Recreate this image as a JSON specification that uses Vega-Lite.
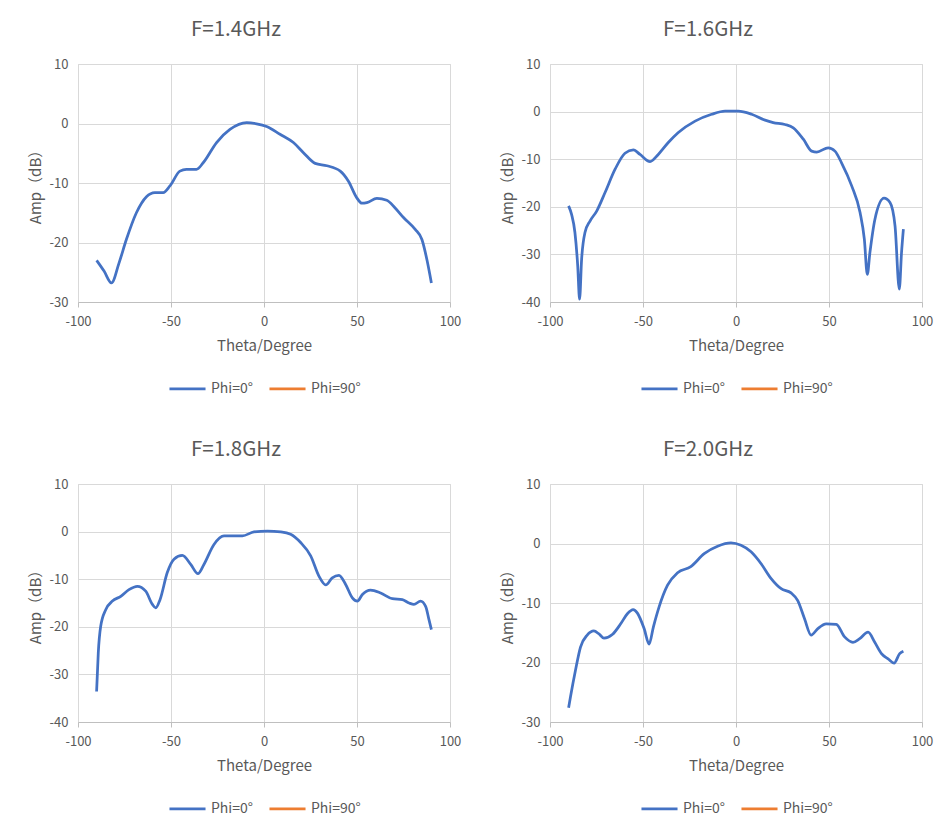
{
  "$schema": "https://vega.github.io/schema/vega-lite/v6.json",
  "background": "white",
  "padding": {"left": 27, "top": 19, "right": 5, "bottom": 5},
  "datasets": {
    "p14": [
      {"theta": -90, "amp": -23.0, "series": "Phi=0°"},
      {"theta": -86, "amp": -24.8, "series": "Phi=0°"},
      {"theta": -82, "amp": -26.8, "series": "Phi=0°"},
      {"theta": -78, "amp": -23.5, "series": "Phi=0°"},
      {"theta": -74, "amp": -19.5, "series": "Phi=0°"},
      {"theta": -68.6, "amp": -15.0, "series": "Phi=0°"},
      {"theta": -63.2, "amp": -12.3, "series": "Phi=0°"},
      {"theta": -58.7, "amp": -11.6, "series": "Phi=0°"},
      {"theta": -54.2, "amp": -11.6, "series": "Phi=0°"},
      {"theta": -50.6, "amp": -10.5, "series": "Phi=0°"},
      {"theta": -45.2, "amp": -8.0, "series": "Phi=0°"},
      {"theta": -41.7, "amp": -7.7, "series": "Phi=0°"},
      {"theta": -36.3, "amp": -7.7, "series": "Phi=0°"},
      {"theta": -32.7, "amp": -6.6, "series": "Phi=0°"},
      {"theta": -25.5, "amp": -3.2, "series": "Phi=0°"},
      {"theta": -18.3, "amp": -1.0, "series": "Phi=0°"},
      {"theta": -9.3, "amp": 0.15, "series": "Phi=0°"},
      {"theta": -4, "amp": -0.05, "series": "Phi=0°"},
      {"theta": 1.4, "amp": -0.5, "series": "Phi=0°"},
      {"theta": 8.6, "amp": -1.8, "series": "Phi=0°"},
      {"theta": 15.8, "amp": -3.2, "series": "Phi=0°"},
      {"theta": 21.2, "amp": -4.9, "series": "Phi=0°"},
      {"theta": 27.5, "amp": -6.7, "series": "Phi=0°"},
      {"theta": 33.8, "amp": -7.1, "series": "Phi=0°"},
      {"theta": 41, "amp": -8.0, "series": "Phi=0°"},
      {"theta": 45.4, "amp": -9.7, "series": "Phi=0°"},
      {"theta": 49.9, "amp": -12.5, "series": "Phi=0°"},
      {"theta": 52.6, "amp": -13.4, "series": "Phi=0°"},
      {"theta": 55.3, "amp": -13.3, "series": "Phi=0°"},
      {"theta": 60.7, "amp": -12.6, "series": "Phi=0°"},
      {"theta": 66, "amp": -12.9, "series": "Phi=0°"},
      {"theta": 70.5, "amp": -14.2, "series": "Phi=0°"},
      {"theta": 75, "amp": -15.8, "series": "Phi=0°"},
      {"theta": 81.3, "amp": -17.8, "series": "Phi=0°"},
      {"theta": 84.9, "amp": -19.5, "series": "Phi=0°"},
      {"theta": 87.6, "amp": -22.9, "series": "Phi=0°"},
      {"theta": 90, "amp": -26.8, "series": "Phi=0°"}
    ],
    "p16": [
      {"theta": -90, "amp": -19.8, "series": "Phi=0°"},
      {"theta": -88.4, "amp": -21.6, "series": "Phi=0°"},
      {"theta": -86.6, "amp": -25.4, "series": "Phi=0°"},
      {"theta": -85.1, "amp": -32.4, "series": "Phi=0°"},
      {"theta": -84.1, "amp": -39.4, "series": "Phi=0°"},
      {"theta": -83, "amp": -31.0, "series": "Phi=0°"},
      {"theta": -81.2, "amp": -25.4, "series": "Phi=0°"},
      {"theta": -78.5, "amp": -23.0, "series": "Phi=0°"},
      {"theta": -74.9, "amp": -20.9, "series": "Phi=0°"},
      {"theta": -70.4, "amp": -17.0, "series": "Phi=0°"},
      {"theta": -65, "amp": -12.1, "series": "Phi=0°"},
      {"theta": -59.7, "amp": -8.75, "series": "Phi=0°"},
      {"theta": -55.2, "amp": -8.05, "series": "Phi=0°"},
      {"theta": -51.6, "amp": -9.0, "series": "Phi=0°"},
      {"theta": -46.2, "amp": -10.5, "series": "Phi=0°"},
      {"theta": -41.8, "amp": -9.0, "series": "Phi=0°"},
      {"theta": -36.4, "amp": -6.5, "series": "Phi=0°"},
      {"theta": -31, "amp": -4.4, "series": "Phi=0°"},
      {"theta": -22, "amp": -2.0, "series": "Phi=0°"},
      {"theta": -13.1, "amp": -0.56, "series": "Phi=0°"},
      {"theta": -5.9, "amp": 0.1, "series": "Phi=0°"},
      {"theta": 1.25, "amp": 0.1, "series": "Phi=0°"},
      {"theta": 8.4, "amp": -0.56, "series": "Phi=0°"},
      {"theta": 15.6, "amp": -1.8, "series": "Phi=0°"},
      {"theta": 20, "amp": -2.3, "series": "Phi=0°"},
      {"theta": 26.3, "amp": -2.7, "series": "Phi=0°"},
      {"theta": 30.8, "amp": -3.4, "series": "Phi=0°"},
      {"theta": 36.2, "amp": -5.8, "series": "Phi=0°"},
      {"theta": 40.7, "amp": -8.3, "series": "Phi=0°"},
      {"theta": 43.4, "amp": -8.5, "series": "Phi=0°"},
      {"theta": 49.6, "amp": -7.6, "series": "Phi=0°"},
      {"theta": 53.2, "amp": -8.3, "series": "Phi=0°"},
      {"theta": 56.8, "amp": -10.8, "series": "Phi=0°"},
      {"theta": 62.2, "amp": -15.6, "series": "Phi=0°"},
      {"theta": 66.7, "amp": -21.2, "series": "Phi=0°"},
      {"theta": 69, "amp": -26.8, "series": "Phi=0°"},
      {"theta": 70.6, "amp": -34.2, "series": "Phi=0°"},
      {"theta": 72, "amp": -29.6, "series": "Phi=0°"},
      {"theta": 74.7, "amp": -22.6, "series": "Phi=0°"},
      {"theta": 79.6, "amp": -18.2, "series": "Phi=0°"},
      {"theta": 82.8, "amp": -19.1, "series": "Phi=0°"},
      {"theta": 85.5, "amp": -24.0, "series": "Phi=0°"},
      {"theta": 87.8, "amp": -37.3, "series": "Phi=0°"},
      {"theta": 89, "amp": -29.6, "series": "Phi=0°"},
      {"theta": 90, "amp": -24.7, "series": "Phi=0°"}
    ],
    "p18": [
      {"theta": -90, "amp": -33.6, "series": "Phi=0°"},
      {"theta": -89.1, "amp": -25.5, "series": "Phi=0°"},
      {"theta": -87.8, "amp": -19.9, "series": "Phi=0°"},
      {"theta": -85.1, "amp": -16.4, "series": "Phi=0°"},
      {"theta": -81.5, "amp": -14.6, "series": "Phi=0°"},
      {"theta": -77, "amp": -13.6, "series": "Phi=0°"},
      {"theta": -72.6, "amp": -12.2, "series": "Phi=0°"},
      {"theta": -68.1, "amp": -11.5, "series": "Phi=0°"},
      {"theta": -63.6, "amp": -12.5, "series": "Phi=0°"},
      {"theta": -60, "amp": -15.3, "series": "Phi=0°"},
      {"theta": -58.2, "amp": -16.0, "series": "Phi=0°"},
      {"theta": -55.9, "amp": -14.3, "series": "Phi=0°"},
      {"theta": -52, "amp": -8.6, "series": "Phi=0°"},
      {"theta": -48.4, "amp": -5.8, "series": "Phi=0°"},
      {"theta": -43.9, "amp": -5.0, "series": "Phi=0°"},
      {"theta": -39.4, "amp": -6.9, "series": "Phi=0°"},
      {"theta": -35.5, "amp": -8.85, "series": "Phi=0°"},
      {"theta": -32.3, "amp": -6.9, "series": "Phi=0°"},
      {"theta": -26.9, "amp": -2.7, "series": "Phi=0°"},
      {"theta": -21.5, "amp": -0.9, "series": "Phi=0°"},
      {"theta": -16.1, "amp": -0.9, "series": "Phi=0°"},
      {"theta": -11.6, "amp": -0.9, "series": "Phi=0°"},
      {"theta": -5.4, "amp": -0.07, "series": "Phi=0°"},
      {"theta": 1.8, "amp": 0.1, "series": "Phi=0°"},
      {"theta": 9, "amp": -0.07, "series": "Phi=0°"},
      {"theta": 14.3, "amp": -0.56, "series": "Phi=0°"},
      {"theta": 19.7, "amp": -2.3, "series": "Phi=0°"},
      {"theta": 25.1, "amp": -5.1, "series": "Phi=0°"},
      {"theta": 29.6, "amp": -9.4, "series": "Phi=0°"},
      {"theta": 33.2, "amp": -11.2, "series": "Phi=0°"},
      {"theta": 36.7, "amp": -9.7, "series": "Phi=0°"},
      {"theta": 40.3, "amp": -9.2, "series": "Phi=0°"},
      {"theta": 43.9, "amp": -11.1, "series": "Phi=0°"},
      {"theta": 47.5, "amp": -13.9, "series": "Phi=0°"},
      {"theta": 50.2, "amp": -14.6, "series": "Phi=0°"},
      {"theta": 52.9, "amp": -13.2, "series": "Phi=0°"},
      {"theta": 57.3, "amp": -12.3, "series": "Phi=0°"},
      {"theta": 62.7, "amp": -12.9, "series": "Phi=0°"},
      {"theta": 69, "amp": -14.1, "series": "Phi=0°"},
      {"theta": 74.4, "amp": -14.3, "series": "Phi=0°"},
      {"theta": 78, "amp": -15.0, "series": "Phi=0°"},
      {"theta": 80.6, "amp": -15.3, "series": "Phi=0°"},
      {"theta": 84.2, "amp": -14.6, "series": "Phi=0°"},
      {"theta": 86.9, "amp": -15.7, "series": "Phi=0°"},
      {"theta": 88.7, "amp": -18.5, "series": "Phi=0°"},
      {"theta": 90, "amp": -20.6, "series": "Phi=0°"}
    ],
    "p20": [
      {"theta": -90, "amp": -27.6, "series": "Phi=0°"},
      {"theta": -89, "amp": -25.8, "series": "Phi=0°"},
      {"theta": -86.3, "amp": -21.3, "series": "Phi=0°"},
      {"theta": -83.6, "amp": -17.4, "series": "Phi=0°"},
      {"theta": -80, "amp": -15.4, "series": "Phi=0°"},
      {"theta": -76.4, "amp": -14.7, "series": "Phi=0°"},
      {"theta": -73.7, "amp": -15.2, "series": "Phi=0°"},
      {"theta": -71, "amp": -15.9, "series": "Phi=0°"},
      {"theta": -66.5, "amp": -15.3, "series": "Phi=0°"},
      {"theta": -62, "amp": -13.5, "series": "Phi=0°"},
      {"theta": -58.4, "amp": -11.8, "series": "Phi=0°"},
      {"theta": -55.3, "amp": -11.1, "series": "Phi=0°"},
      {"theta": -53, "amp": -11.7, "series": "Phi=0°"},
      {"theta": -49.4, "amp": -14.3, "series": "Phi=0°"},
      {"theta": -46.7, "amp": -16.9, "series": "Phi=0°"},
      {"theta": -44.4, "amp": -14.0, "series": "Phi=0°"},
      {"theta": -41.3, "amp": -10.6, "series": "Phi=0°"},
      {"theta": -36.8, "amp": -7.0, "series": "Phi=0°"},
      {"theta": -31.4, "amp": -4.9, "series": "Phi=0°"},
      {"theta": -24.3, "amp": -3.9, "series": "Phi=0°"},
      {"theta": -17.1, "amp": -1.7, "series": "Phi=0°"},
      {"theta": -9.9, "amp": -0.45, "series": "Phi=0°"},
      {"theta": -2.7, "amp": 0.1, "series": "Phi=0°"},
      {"theta": 2.7, "amp": -0.3, "series": "Phi=0°"},
      {"theta": 8.1, "amp": -1.4, "series": "Phi=0°"},
      {"theta": 13.5, "amp": -3.4, "series": "Phi=0°"},
      {"theta": 18.9, "amp": -5.9, "series": "Phi=0°"},
      {"theta": 24.3, "amp": -7.6, "series": "Phi=0°"},
      {"theta": 29.6, "amp": -8.3, "series": "Phi=0°"},
      {"theta": 33.2, "amp": -9.6, "series": "Phi=0°"},
      {"theta": 36.8, "amp": -12.6, "series": "Phi=0°"},
      {"theta": 40.4, "amp": -15.4, "series": "Phi=0°"},
      {"theta": 44, "amp": -14.3, "series": "Phi=0°"},
      {"theta": 48.5, "amp": -13.5, "series": "Phi=0°"},
      {"theta": 53.9, "amp": -13.6, "series": "Phi=0°"},
      {"theta": 58.4, "amp": -15.7, "series": "Phi=0°"},
      {"theta": 62.9, "amp": -16.6, "series": "Phi=0°"},
      {"theta": 66.5, "amp": -16.0, "series": "Phi=0°"},
      {"theta": 71, "amp": -14.9, "series": "Phi=0°"},
      {"theta": 74.6, "amp": -16.6, "series": "Phi=0°"},
      {"theta": 78.2, "amp": -18.5, "series": "Phi=0°"},
      {"theta": 81.8, "amp": -19.4, "series": "Phi=0°"},
      {"theta": 85, "amp": -20.1, "series": "Phi=0°"},
      {"theta": 88, "amp": -18.5, "series": "Phi=0°"},
      {"theta": 90, "amp": -18.1, "series": "Phi=0°"}
    ]
  },
  "columns": 2,
  "spacing": {"row": 42, "column": 37},
  "concat": [
    {
      "title": {"text": "F=1.4GHz"},
      "width": 372, "height": 238,
      "data": {"name": "p14"},
      "mark": {"type": "line", "interpolate": "monotone", "strokeWidth": 2.75},
      "encoding": {
        "x": {"field": "theta", "type": "quantitative", "scale": {"domain": [-100, 100], "nice": false}, "axis": {"values": [-100, -50, 0, 50, 100], "title": "Theta/Degree"}},
        "y": {"field": "amp", "type": "quantitative", "scale": {"domain": [-30, 10], "nice": false}, "axis": {"values": [-30, -20, -10, 0, 10], "title": "Amp（dB）"}},
        "color": {"field": "series", "type": "nominal", "scale": {"domain": ["Phi=0°", "Phi=90°"], "range": ["#4472C4", "#ED7D31"]}, "legend": {"title": null}}
      }
    },
    {
      "title": {"text": "F=1.6GHz"},
      "width": 372, "height": 238,
      "data": {"name": "p16"},
      "mark": {"type": "line", "interpolate": "monotone", "strokeWidth": 2.75},
      "encoding": {
        "x": {"field": "theta", "type": "quantitative", "scale": {"domain": [-100, 100], "nice": false}, "axis": {"values": [-100, -50, 0, 50, 100], "title": "Theta/Degree"}},
        "y": {"field": "amp", "type": "quantitative", "scale": {"domain": [-40, 10], "nice": false}, "axis": {"values": [-40, -30, -20, -10, 0, 10], "title": "Amp（dB）"}},
        "color": {"field": "series", "type": "nominal", "scale": {"domain": ["Phi=0°", "Phi=90°"], "range": ["#4472C4", "#ED7D31"]}, "legend": {"title": null}}
      }
    },
    {
      "title": {"text": "F=1.8GHz"},
      "width": 372, "height": 238,
      "data": {"name": "p18"},
      "mark": {"type": "line", "interpolate": "monotone", "strokeWidth": 2.75},
      "encoding": {
        "x": {"field": "theta", "type": "quantitative", "scale": {"domain": [-100, 100], "nice": false}, "axis": {"values": [-100, -50, 0, 50, 100], "title": "Theta/Degree"}},
        "y": {"field": "amp", "type": "quantitative", "scale": {"domain": [-40, 10], "nice": false}, "axis": {"values": [-40, -30, -20, -10, 0, 10], "title": "Amp（dB）"}},
        "color": {"field": "series", "type": "nominal", "scale": {"domain": ["Phi=0°", "Phi=90°"], "range": ["#4472C4", "#ED7D31"]}, "legend": {"title": null}}
      }
    },
    {
      "title": {"text": "F=2.0GHz"},
      "width": 372, "height": 238,
      "data": {"name": "p20"},
      "mark": {"type": "line", "interpolate": "monotone", "strokeWidth": 2.75},
      "encoding": {
        "x": {"field": "theta", "type": "quantitative", "scale": {"domain": [-100, 100], "nice": false}, "axis": {"values": [-100, -50, 0, 50, 100], "title": "Theta/Degree"}},
        "y": {"field": "amp", "type": "quantitative", "scale": {"domain": [-30, 10], "nice": false}, "axis": {"values": [-30, -20, -10, 0, 10], "title": "Amp（dB）"}},
        "color": {"field": "series", "type": "nominal", "scale": {"domain": ["Phi=0°", "Phi=90°"], "range": ["#4472C4", "#ED7D31"]}, "legend": {"title": null}}
      }
    }
  ],
  "resolve": {"scale": {"color": "independent", "x": "independent", "y": "independent"}, "legend": {"color": "independent"}},
  "config": {
    "font": "Noto Sans CJK SC",
    "locale": {"number": {"decimal": ".", "thousands": ",", "grouping": [3], "currency": ["$", ""], "minus": "-"}},
    "view": {"stroke": "#d9d9d9"},
    "title": {"fontSize": 20.5, "fontWeight": "normal", "color": "#595959", "offset": 18, "anchor": "middle", "dx": -28},
    "axis": {"labelColor": "#595959", "labelFontSize": 13, "titleColor": "#595959", "titleFontSize": 15, "titleFontWeight": "normal", "gridColor": "#d9d9d9", "domainColor": "#bfbfbf", "tickColor": "#bfbfbf", "labelFlush": false},
    "axisX": {"tickSize": 5, "labelPadding": 8, "titlePadding": 10},
    "axisY": {"ticks": false, "domain": false, "labelPadding": 10, "titlePadding": 6},
    "legend": {"orient": "bottom", "direction": "horizontal", "symbolType": "stroke", "symbolStrokeWidth": 2.75, "symbolSize": 1300, "labelFontSize": 14, "labelColor": "#595959", "offset": 16, "columnPadding": 10, "layout": {"bottom": {"anchor": "middle"}}}
  }
}
